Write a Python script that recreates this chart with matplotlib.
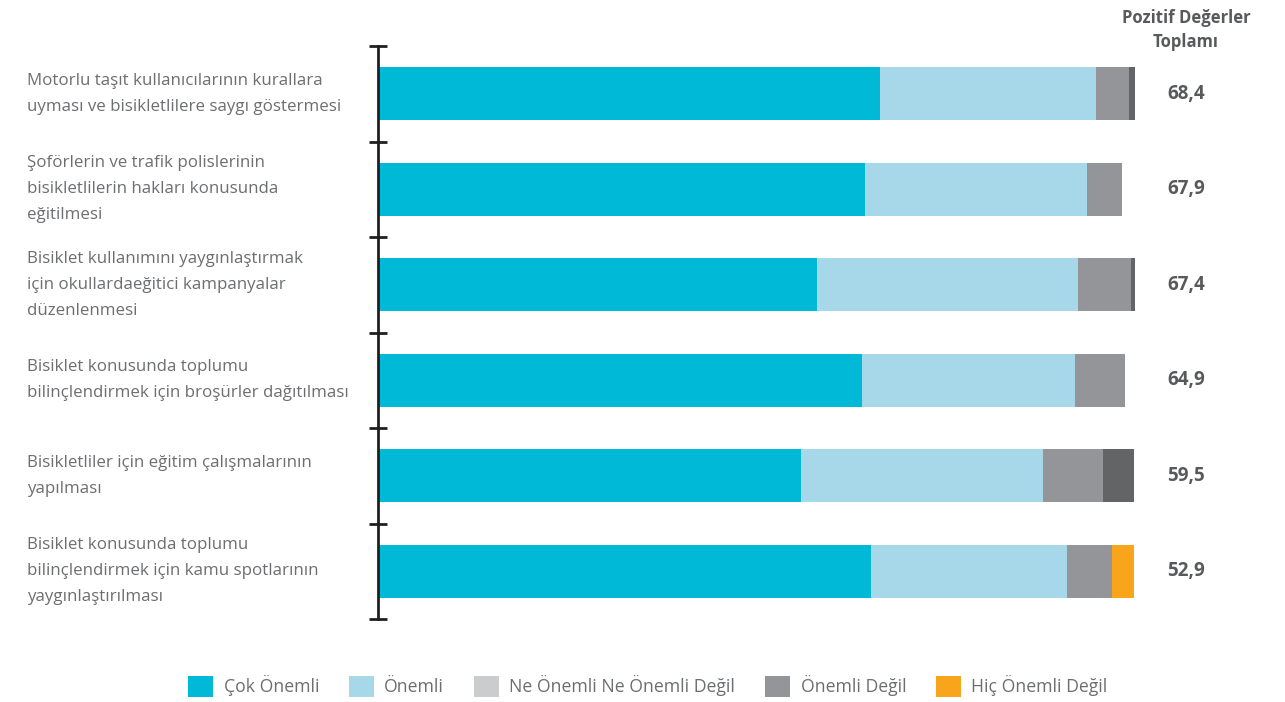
import matplotlib.pyplot as plt
from matplotlib.patches import Patch
from matplotlib.transforms import blended_transform_factory

plt.rcParams['font.family'] = ['Open Sans', 'DejaVu Sans']

# Data (percent)
categories = [
    'Motorlu taşıt kullanıcılarının kurallara\nuyması ve bisikletlilere saygı göstermesi',
    'Şoförlerin ve trafik polislerinin\nbisikletlilerin hakları konusunda\neğitilmesi',
    'Bisiklet kullanımını yaygınlaştırmak\niçin okullardaeğitici kampanyalar\ndüzenlenmesi',
    'Bisiklet konusunda toplumu\nbilinçlendirmek için broşürler dağıtılması',
    'Bisikletliler için eğitim çalışmalarının\nyapılması',
    'Bisiklet konusunda toplumu\nbilinçlendirmek için kamu spotlarının\nyaygınlaştırılması',
]
cok_onemli = [66.1, 64.2, 57.9, 63.8, 55.7, 65.0]
onemli = [28.5, 29.3, 34.3, 28.0, 32.0, 25.8]
ne_onemli = [4.4, 4.6, 7.1, 6.6, 7.9, 5.9]
onemli_degil = [0.8, 0.0, 0.5, 0.0, 4.1, 0.0]
hic_onemli = [0.0, 0.0, 0.0, 0.0, 0.0, 3.0]
pozitif = ['68,4', '67,9', '67,4', '64,9', '59,5', '52,9']

legend_labels = ['Çok Önemli', 'Önemli', 'Ne Önemli Ne Önemli Değil',
                 'Önemli Değil', 'Hiç Önemli Değil']
legend_colors = ['#00b9d6', '#a7d8e9', '#cbcccd', '#939598', '#f8a51b']
bar_colors = ['#00b9d6', '#a7d8e9', '#939598', '#636466', '#f8a51b']

text_gray = '#6d6e71'
dark_gray = '#58595b'

W, H = 1285, 702
fig = plt.figure(figsize=(W / 100, H / 100), dpi=100)
ax = fig.add_axes([378 / W, 1 - 619 / H, (1136 - 378) / W, (619 - 46) / H])

y = list(range(len(categories)))
series = [cok_onemli, onemli, ne_onemli, onemli_degil, hic_onemli]
left = [0.0] * len(categories)
for vals, col in zip(series, bar_colors):
    ax.barh(y, vals, left=left, height=0.56, color=col, linewidth=0)
    left = [l + v for l, v in zip(left, vals)]

ax.set_xlim(0, 99.9)
ax.set_ylim(len(categories) - 0.5, -0.5)

for s in ['top', 'right', 'bottom']:
    ax.spines[s].set_visible(False)
ax.spines['left'].set_linewidth(2)
ax.spines['left'].set_color('#231f20')
ax.set_xticks([])
ax.set_yticks([i - 0.5 for i in range(len(categories) + 1)])
ax.set_yticklabels([])
ax.tick_params(axis='y', direction='inout', length=13, width=2, color='#231f20')

# category labels on the left, positive totals on the right
tr = blended_transform_factory(fig.transFigure, ax.transData)
for i, lab in enumerate(categories):
    ax.text(27 / W, i, lab, transform=tr, ha='left', va='center',
            fontsize=12.2, color=text_gray, linespacing=1.85, clip_on=False)
for i, v in enumerate(pozitif):
    ax.text(1186 / W, i, v, transform=tr, ha='center', va='center',
            fontsize=13.5, fontweight='bold', color=dark_gray, clip_on=False)
fig.text(1186 / W, 1 - 30 / H, 'Pozitif Değerler\nToplamı', ha='center', va='center',
         fontsize=12, fontweight='bold', color=dark_gray, linespacing=1.4)

handles = [Patch(facecolor=c, edgecolor='none') for c in legend_colors]
leg = fig.legend(handles, legend_labels, loc='center', ncol=5, frameon=False,
                 bbox_to_anchor=(648 / W, 1 - 686 / H), fontsize=12.7,
                 handlelength=1.4, handleheight=1.4, handletextpad=0.6,
                 columnspacing=1.7)
for t in leg.get_texts():
    t.set_color(text_gray)

fig.savefig('out.png', dpi=100)
